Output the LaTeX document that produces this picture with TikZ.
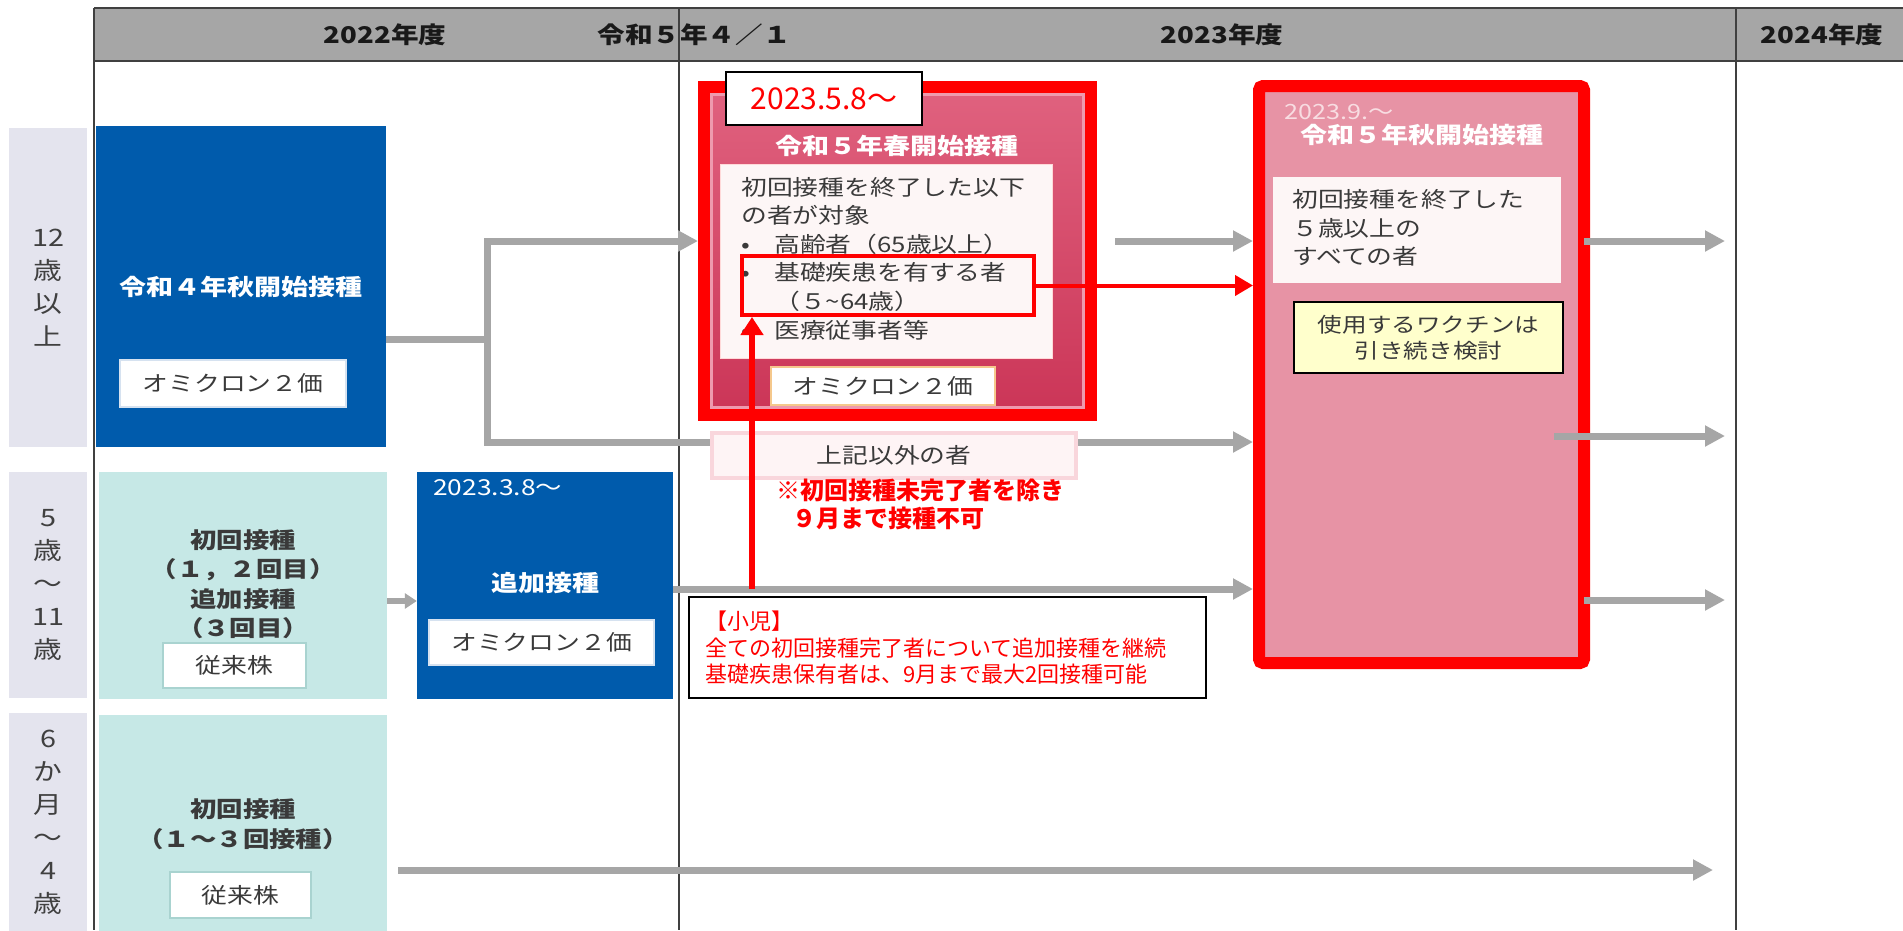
\documentclass[tikz,border=0pt]{standalone}
\usepackage{fontspec}
\setmainfont{Noto Sans CJK JP}[FakeStretch=1.2]
\newfontfamily\flatjp{Noto Sans CJK JP}
\usetikzlibrary{arrows.meta,calc}
\definecolor{hdrgray}{HTML}{A6A6A6}
\definecolor{gridline}{HTML}{404040}
\definecolor{lavender}{HTML}{E4E4EE}
\definecolor{labgray}{HTML}{404040}
\definecolor{jblue}{HTML}{005BAC}
\definecolor{lteal}{HTML}{C6E8E6}
\definecolor{arrgray}{HTML}{A6A6A6}
\definecolor{txtgray}{HTML}{3A3A3A}
\definecolor{rbtop}{HTML}{E0627F}
\definecolor{rbbot}{HTML}{CB3557}
\definecolor{rbedge}{HTML}{EE9AAE}
\definecolor{rbfill}{HTML}{E793A5}
\definecolor{pale}{HTML}{FDF6F6}
\definecolor{ylw}{HTML}{FFFFCC}
\definecolor{orng}{HTML}{F5C88C}
\definecolor{pinkedge}{HTML}{F9D6DC}
\definecolor{pinkfill}{HTML}{FEF4F5}
\definecolor{datepink}{HTML}{F8DDE2}
\definecolor{omiblue}{HTML}{D6E2F0}
\definecolor{omiteal}{HTML}{A9D3D0}
\newcommand{\fsz}[2]{\fontsize{#1pt}{#2pt}\selectfont}
\begin{document}
\begin{tikzpicture}[x=1pt,y=-1pt,
  every node/.style={inner sep=0pt},
  agebox/.style={fill=lavender,text=labgray,align=center,font=\fsz{24}{33}},
  hdrtext/.style={text=black!90,font=\bfseries\fsz{23}{26}},
  gridln/.style={draw=gridline,line width=1.5pt},
  bluebox/.style={fill=jblue},
  tealbox/.style={fill=lteal},
  omibox/.style={fill=white,draw=#1,line width=1.5pt,text=txtgray,font=\fsz{21.5}{24}},
  ttl/.style={text=white,font=\bfseries\fsz{22.5}{26}},
  tealtxt/.style={text=txtgray,align=center,font=\bfseries\fsz{22}{29.5}},
  body/.style={text=txtgray,align=left,font=\fsz{21.5}{28.6}},
  gline/.style={draw=arrgray,line width=7pt},
  garrow/.style={draw=arrgray,line width=7pt,-{Triangle[length=20pt,width=20pt]}},
  gsmall/.style={draw=arrgray,line width=6pt,-{Triangle[length=12pt,width=15pt]}},
  rarrowh/.style={draw=red,line width=4pt,-{Triangle[length=18pt,width=20pt]}},
  rarrowv/.style={draw=red,line width=6pt,-{Triangle[length=18pt,width=22pt]}}
]
\useasboundingbox (0,0) rectangle (1903,930);
\fill[white] (0,0) rectangle (1903,930);

% header
\fill[hdrgray] (94,8) rectangle (1903,61);
\node[hdrtext] (h22) at (385,35) {2022年度};
\node[hdrtext] (h41) at (694,35) {令和５年４／１};
\node[hdrtext] (h23) at (1222,35) {2023年度};
\node[hdrtext] (h24) at (1822,35) {2024年度};
\draw[gridln] (94,8) -- (1903,8);
\draw[gridln] (94,61) -- (1903,61);
\draw[gridln] (94,8) -- (94,930);
\draw[gridln] (679,8) -- (679,930);
\draw[gridln] (1736,8) -- (1736,930);

% age labels
\node[agebox,minimum width=78pt,minimum height=319pt] (r1) at (48,287.5) {12\\歳\\以\\上};
\node[agebox,minimum width=78pt,minimum height=226pt] (r2) at (48,585) {5\\歳\\～\\11\\歳};
\node[agebox,minimum width=78pt,minimum height=218pt] (r3) at (48,822) {6\\か\\月\\～\\4\\歳};

% 2022 boxes
\node[bluebox,minimum width=290pt,minimum height=321pt] (b1) at (241,286.5) {};
\node[ttl] (b1t) at (241,287) {令和４年秋開始接種};
\node[omibox=omiblue,minimum width=226pt,minimum height=47pt] (b1o) at (233,383.5) {オミクロン２価};

\node[tealbox,minimum width=288pt,minimum height=227pt] (t1) at (243,585.5) {};
\node[tealtxt] (t1t) at (243,584) {初回接種\\（１，２回目）\\追加接種\\（３回目）};
\node[omibox=omiteal,minimum width=143pt,minimum height=45pt] (t1o) at (234.5,665.5) {従来株};

\node[tealbox,minimum width=288pt,minimum height=217pt] (t2) at (243,823.5) {};
\node[tealtxt] (t2t) at (243,824) {初回接種\\（１～３回接種）};
\node[omibox=omiteal,minimum width=141pt,minimum height=46pt] (t2o) at (240.5,895) {従来株};

\node[bluebox,minimum width=256pt,minimum height=227pt] (b2) at (545,585.5) {};
\node[anchor=west,text=white,font=\fsz{22}{24}] (b2d) at (433,488) {2023.3.8～};
\node[ttl] (b2t) at (545,583) {追加接種};
\node[omibox=omiblue,minimum width=225pt,minimum height=45pt] (b2o) at (541.5,642.5) {オミクロン２価};

% red box 1
\node[draw=red,line width=12pt,top color=rbtop,bottom color=rbbot,minimum width=387pt,minimum height=328pt] (rb1) at (897.5,251) {};
\node[draw=rbedge,line width=2.5pt,minimum width=372pt,minimum height=313pt] (rb1e) at (897.5,251) {};
\node[ttl] (rb1t) at (897,146) {令和５年春開始接種};
\node[fill=pale,draw=white!85!red,line width=1pt,minimum width=332pt,minimum height=194pt] (wb1) at (886,261) {};
\node[body,anchor=west] (wb1t) at (741,258.5) {初回接種を終了した以下\\の者が対象\\\makebox[33pt][l]{•}高齢者（65歳以上）\\\makebox[33pt][l]{•}基礎疾患を有する者\\\hspace*{33pt}（５\textasciitilde 64歳）\\\makebox[33pt][l]{•}医療従事者等};
\node[omibox=orng,line width=2pt,minimum width=224pt,minimum height=38pt] (rb1o) at (883,386) {オミクロン２価};

% red box 2
\node[draw=red,line width=12pt,fill=rbfill,rounded corners=4pt,minimum width=325pt,minimum height=577pt] (rb2) at (1421.5,374.5) {};
\node[anchor=west,text=datepink,font=\fsz{21}{24}] (rb2d) at (1284,112) {2023.9.～};
\node[ttl] (rb2t) at (1422,135) {令和５年秋開始接種};
\node[fill=pale,minimum width=288pt,minimum height=106pt] (wb2) at (1417,230) {};
\node[body,anchor=west] (wb2t) at (1292,228) {初回接種を終了した\\５歳以上の\\すべての者};
\node[draw=black,line width=1.5pt,fill=ylw,minimum width=269pt,minimum height=71pt,align=center,text=txtgray,font=\fsz{20.5}{26}] (yb) at (1428.5,337.5) {使用するワクチンは\\引き続き検討};

% gray arrows
\coordinate (jm) at (487,339);
\coordinate (ju) at (487,241);
\coordinate (jl) at (487,442);
\draw[gline] (b1.east |- jm) -- (jm);
\draw[garrow] (jm) |- (rb1.west |- ju);
\draw[garrow] (jm) |- (rb2.west |- jl);
\draw[garrow] ($(rb1.east |- ju)+(18,0)$) -- (rb2.west |- ju);
\coordinate (yc) at (0,589);
\draw[garrow] (b2.east |- yc) -- (rb2.west |- yc);
\coordinate (ys) at (0,601);
\draw[gsmall] (t1.east |- ys) -- (b2.west |- ys);
\coordinate (tipx) at (1725,0);
\draw[garrow] ($(rb2.east |- ju)+(-6,0)$) -- (tipx |- ju);
\coordinate (ym) at (0,436);
\draw[garrow] ($(rb2.east |- ym)+(-36,0)$) -- (tipx |- ym);
\coordinate (yl) at (0,600);
\draw[garrow] ($(rb2.east |- yl)+(-6,0)$) -- (tipx |- yl);
\coordinate (yb) at (0,870);
\coordinate (tipb) at (1713,870);
\draw[garrow] ($(t2.east |- yb)+(11,0)$) -- (tipb);

% others
\node[fill=pinkfill,draw=pinkedge,line width=4pt,minimum width=364pt,minimum height=45pt,text=txtgray,font=\fsz{21.5}{24}] (jo) at (894,455.5) {上記以外の者};
\node[anchor=west,text=red,align=left,font=\flatjp\bfseries\fsz{24}{28}] (rn) at (776,504) {※初回接種未完了者を除き\\\hspace*{16pt}９月まで接種不可};
\node[draw=black,fill=white,line width=1.5pt,minimum width=517pt,minimum height=101pt] (cn) at (947.5,647.5) {};
\node[anchor=west,text=red,align=left,font=\flatjp\fsz{22}{26.5}] (cnt) at (705,648) {【小児】\\全ての初回接種完了者について追加接種を継続\\基礎疾患保有者は、9月まで最大2回接種可能};

\node[draw=red,line width=4pt,minimum width=292pt,minimum height=59pt] (hr) at (888,285.5) {};
\draw[rarrowh] (hr.east) -- (rb2.west |- hr.east);
\coordinate (rvs) at (752,589);
\draw[rarrowv] (rvs) -- (rvs |- hr.south);

\node[draw=black,fill=white,line width=2pt,minimum width=196pt,minimum height=53pt,text=red,font=\flatjp\fsz{30}{34}] (d1) at (824,98.5) {2023.5.8～};
\end{tikzpicture}
\end{document}
